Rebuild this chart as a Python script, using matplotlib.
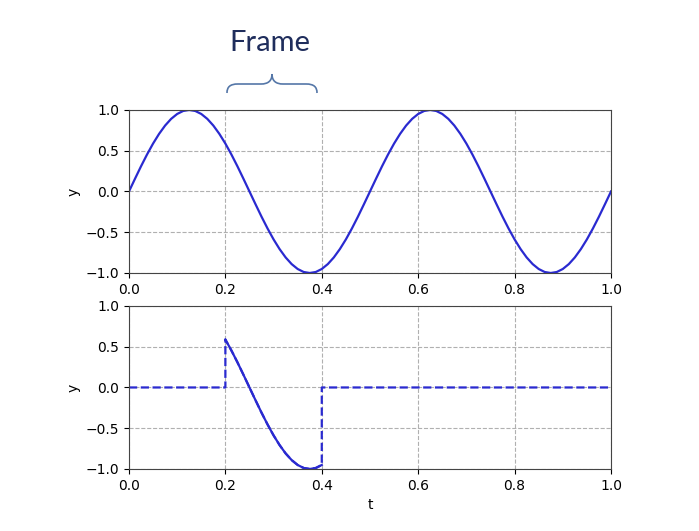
import numpy as np
import matplotlib
matplotlib.use("Agg")
import matplotlib.pyplot as plt
from matplotlib.path import Path
from matplotlib.patches import PathPatch

t = np.arange(81) * 0.0125
y = np.array([
    0.000, 0.156, 0.309, 0.454, 0.588, 0.707, 0.809, 0.891, 0.951, 0.988,
    1.000, 0.988, 0.951, 0.891, 0.809, 0.707, 0.588, 0.454, 0.309, 0.156,
    0.000, -0.156, -0.309, -0.454, -0.588, -0.707, -0.809, -0.891, -0.951, -0.988,
    -1.000, -0.988, -0.951, -0.891, -0.809, -0.707, -0.588, -0.454, -0.309, -0.156,
    0.000, 0.156, 0.309, 0.454, 0.588, 0.707, 0.809, 0.891, 0.951, 0.988,
    1.000, 0.988, 0.951, 0.891, 0.809, 0.707, 0.588, 0.454, 0.309, 0.156,
    0.000, -0.156, -0.309, -0.454, -0.588, -0.707, -0.809, -0.891, -0.951, -0.988,
    -1.000, -0.988, -0.951, -0.891, -0.809, -0.707, -0.588, -0.454, -0.309, -0.156,
    0.000])

# frame window
frame_start = 0.2
frame_end = 0.4
ticks = [-1.0, -0.5, 0.0, 0.5, 1.0]

inside = (t >= frame_start - 1e-9) & (t <= frame_end + 1e-9)
t_frame = t[inside]
y_frame = y[inside]

# windowed signal: zero outside the frame, with vertical jumps at the edges
before = t < frame_start - 1e-9
after = t > frame_end + 1e-9
t_win = np.concatenate([t[before], [frame_start], t_frame, [frame_end], t[after]])
y_win = np.concatenate([np.zeros(before.sum()), [0.0], y_frame,
                        [0.0], np.zeros(after.sum())])

fig = plt.figure(figsize=(6.99, 5.31), dpi=100)
ax1 = fig.add_axes([0.1845, 0.4859, 0.6896, 0.307])
ax2 = fig.add_axes([0.1845, 0.1168, 0.6896, 0.307])

ax1.plot(t, y, color='#2a2ad0', lw=1.6)
ax2.plot(t_win, y_win, color='#2a2ad0', lw=1.6, ls='--')
ax2.plot(t_frame, y_frame, color='#2a2ad0', lw=1.6)

for ax in (ax1, ax2):
    ax.set_xlim(0, 1)
    ax.set_ylim(-1, 1)
    ax.set_yticks(ticks)
    ax.grid(True, ls='--', color='#b0b0b0', lw=0.8)
    ax.set_ylabel('y')
    for s in ax.spines.values():
        s.set_color('#444444')
ax2.set_xlabel('t')

# "Frame" annotation with a curly brace over the window
over = fig.add_axes([0, 0, 1, 1])
over.set_xlim(0, 699)
over.set_ylim(531, 0)
over.axis('off')
verts = [(227, 93), (227, 87), (230, 84), (238, 84), (238, 84),
         (261, 84), (261, 84), (268, 84), (272, 81), (272, 74),
         (272, 81), (276, 84), (283, 84), (283, 84), (306, 84),
         (306, 84), (314, 84), (317, 87), (317, 93)]
codes = [Path.MOVETO, Path.CURVE4, Path.CURVE4, Path.CURVE4, Path.LINETO,
         Path.LINETO, Path.LINETO, Path.CURVE4, Path.CURVE4, Path.CURVE4,
         Path.CURVE4, Path.CURVE4, Path.CURVE4, Path.LINETO, Path.LINETO,
         Path.LINETO, Path.CURVE4, Path.CURVE4, Path.CURVE4]
over.add_patch(PathPatch(Path(verts, codes), fill=False, ec='#5577a8', lw=1.2))
over.text(270, 43, 'Frame', ha='center', va='center', fontsize=21,
          family='Lato', color='#1f2d5c')

fig.savefig('out.png', dpi=100)
